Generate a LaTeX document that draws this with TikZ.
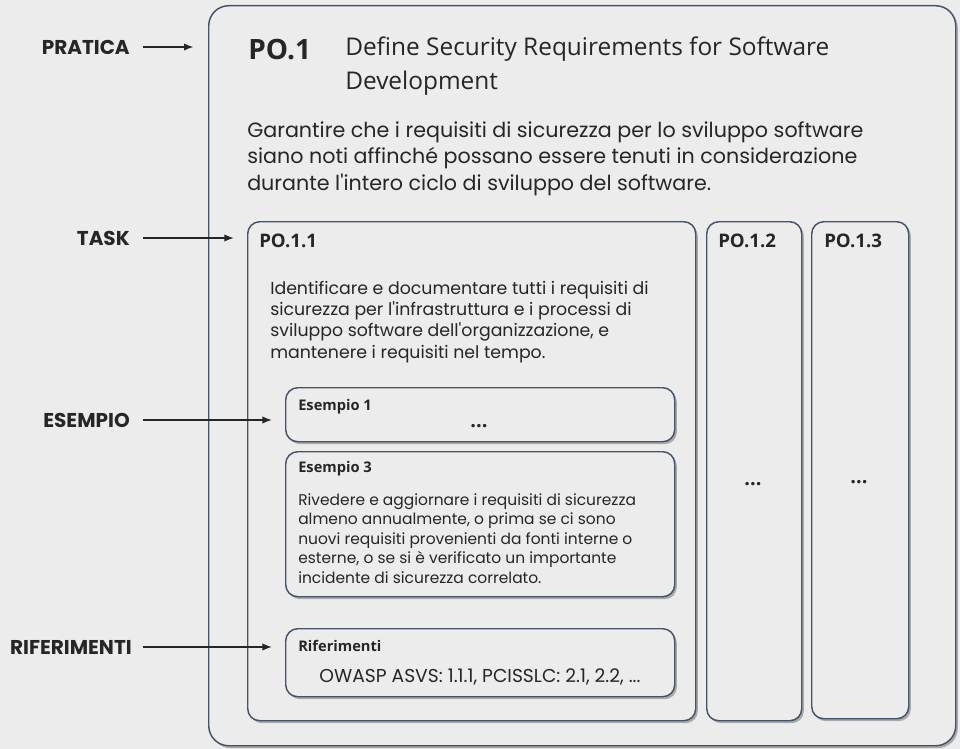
\documentclass[tikz,border=0pt]{standalone}
\usepackage{fontspec}
\setmainfont{Poppins}
\newfontfamily\headfont{Open Sans}
\usetikzlibrary{arrows.meta,positioning,shadows}
\definecolor{pagebg}{HTML}{ECECEC}
\definecolor{boxline}{HTML}{44546A}
\definecolor{inktext}{HTML}{262626}

\tikzset{
  pbox/.style={draw=boxline,line width=1.1pt,fill=pagebg,rounded corners=#1,anchor=north west,inner sep=0pt,
    drop shadow={shadow xshift=1.6pt,shadow yshift=-1.8pt,fill=black,opacity=0.28}},
  pbox/.default=9pt,
  tag/.style={anchor=east,inner sep=0pt,text=inktext,font=\fontsize{15}{17}\selectfont\bfseries},
  head/.style={anchor=base west,inner sep=0pt,text=inktext,font=\headfont\bfseries\fontsize{#1}{#1}\selectfont},
  head/.default=11,
  body/.style={anchor=north west,inner sep=0pt,align=left,text=inktext},
  conn/.style={-{Latex[length=7pt,width=5.5pt]},line width=0.8pt,draw=inktext,shorten <=10pt,shorten >=10pt}
}

\begin{document}
\begin{tikzpicture}[x=0.75pt,y=-0.75pt]
    \useasboundingbox (0,0) rectangle (960,749);
    \fill[pagebg] (0,0) rectangle (960,749);

    % Pratica
    \node[pbox=15pt,minimum width=560.25pt,minimum height=555pt] (outer) at (208,5) {};
    \node[head=21] (pnum) at (248,60) {PO.1};
    \node[body,font=\headfont\fontsize{18.3}{25}\selectfont] (ptitle) at (345,37) {Define Security Requirements for Software\\Development};
    \node[body,font=\fontsize{15.5}{19.9}\selectfont] (pdesc) at (247,121) {Garantire che i requisiti di sicurezza per lo sviluppo software\\siano noti affinché possano essere tenuti in considerazione\\durante l\textquotesingle intero ciclo di sviluppo del software.};

    % Task
    \node[pbox,minimum width=336pt,minimum height=374.25pt] (task1) at (247,221) {};
    \node[pbox,minimum width=71.25pt,minimum height=374.25pt] (task2) at (706,221) {};
    \node[pbox,minimum width=72.75pt,minimum height=372.75pt] (task3) at (811,221) {};
    \node[head=14] (t1head) at (259,247) {PO.1.1};
    \node[head=14] (t2head) at (718,247) {PO.1.2};
    \node[head=14] (t3head) at (824,247) {PO.1.3};
    \node[body,font=\fontsize{13}{15.9}\selectfont] (t1desc) at (270,281) {Identificare e documentare tutti i requisiti di\\sicurezza per l\textquotesingle infrastruttura e i processi di\\sviluppo software dell\textquotesingle organizzazione, e\\mantenere i requisiti nel tempo.};
    \node[head=15,anchor=base] (t2dots) at (753,485) {...};
    \node[head=15,anchor=base] (t3dots) at (859,483) {...};

    % Esempi
    \node[pbox,minimum width=291.75pt,minimum height=40.5pt] (ex1) at (285,387) {};
    \node[head] (ex1head) at (298,410) {Esempio 1};
    \node[head=15,anchor=base] (ex1dots) at (479,427) {...};
    \node[pbox,minimum width=291.75pt,minimum height=108.75pt] (ex3) at (285,451) {};
    \node[head] (ex3head) at (298,472) {Esempio 3};
    \node[body,font=\fontsize{11.6}{14.7}\selectfont] (ex3desc) at (298,493) {Rivedere e aggiornare i requisiti di sicurezza\\almeno annualmente, o prima se ci sono\\nuovi requisiti provenienti da fonti interne o\\esterne, o se si è verificato un importante\\incidente di sicurezza correlato.};

    % Riferimenti
    \node[pbox,minimum width=291.75pt,minimum height=51pt] (refs) at (285,628) {};
    \node[head] (refshead) at (298,651) {Riferimenti};
    \node[inner sep=0pt,text=inktext,font=\fontsize{14}{16}\selectfont] (refslist) at (480,677) {OWASP ASVS: 1.1.1, PCISSLC: 2.1, 2.2, ...};

    % Etichette a sinistra
    \node[tag] (lprat) at (130,47) {PRATICA};
    \node[tag] (ltask) at (130,238) {TASK};
    \node[tag] (lex) at (130,420) {ESEMPIO};
    \node[tag] (lrefs) at (132,647) {RIFERIMENTI};
    \draw[conn,shorten >=11pt] (lprat.east) -- (lprat.east -| outer.west);
    \draw[conn] (ltask.east) -- (ltask.east -| task1.west);
    \draw[conn] (lex.east) -- (lex.east -| ex1.west);
    \draw[conn,shorten <=8pt] (lrefs.east) -- (lrefs.east -| refs.west);
\end{tikzpicture}
\end{document}
